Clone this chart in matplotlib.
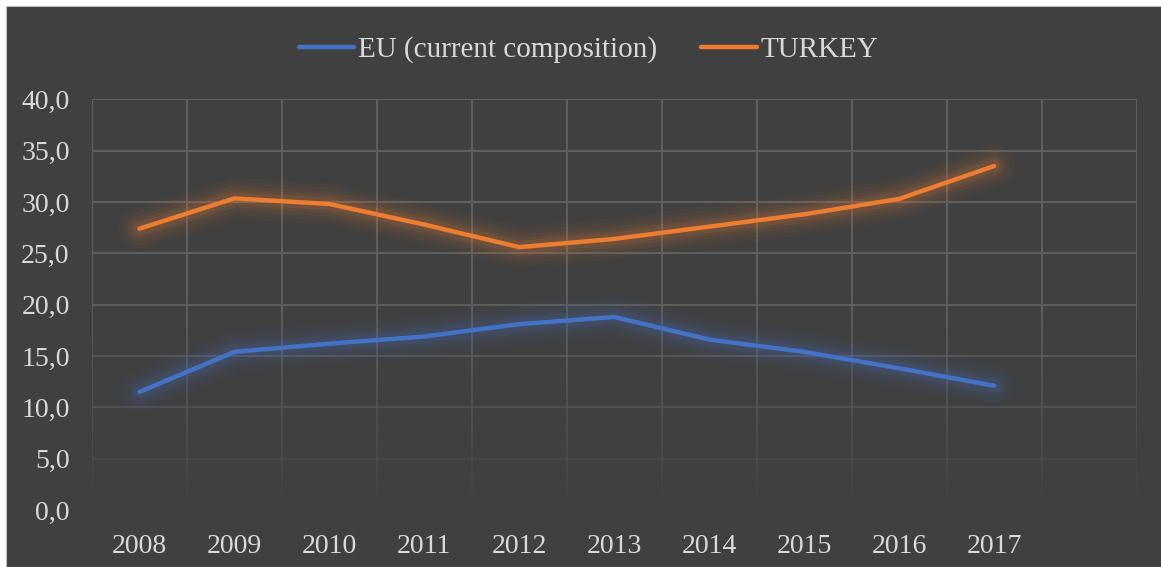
import numpy as np
import matplotlib.pyplot as plt
from matplotlib.collections import LineCollection
from matplotlib.patches import Rectangle

# data
years = ['2008', '2009', '2010', '2011', '2012', '2013', '2014', '2015', '2016', '2017']
eu = [11.5, 15.4, 16.2, 16.9, 18.1, 18.8, 16.6, 15.4, 13.8, 12.1]
turkey = [27.4, 30.35, 29.8, 27.8, 25.6, 26.4, 27.6, 28.8, 30.3, 33.5]
series_names = ['EU (current composition)', 'TURKEY']
series_colors = ['#4472C4', '#ED7D31']
n_slots = 11  # Excel axis leaves one empty category at the end

bg = '#404040'
grid_col = '#5e5e5e'
txt_col = '#d9d9d9'

plt.rcParams['font.family'] = ['Liberation Serif', 'DejaVu Serif']

fig = plt.figure(figsize=(11.61, 5.67), dpi=100)
fig.patch.set_facecolor('white')
fig.patches.append(Rectangle((6 / 1161, 0), 1, 1 - 6 / 567, transform=fig.transFigure,
                             facecolor=bg, edgecolor='#bfbfbf', linewidth=0.8, zorder=-5))

ax = fig.add_axes([0.0792, 0.1005, 0.979 - 0.0792, 0.8249 - 0.1005])
ax.set_zorder(2)
ax.set_facecolor(bg)
ax.set_xlim(-0.5, n_slots - 0.5)
ax.set_ylim(0, 40)
for s in ax.spines.values():
    s.set_visible(False)

# gridlines fading out towards the bottom
def fade(v):
    return np.clip((v - 1.0) / 20.0, 0, 1) ** 0.8

yt = np.arange(0, 45, 5)
for v in yt:
    ax.axhline(v, color=grid_col, lw=1.5, alpha=float(fade(v)), zorder=1)
ys = np.linspace(0, 40, 81)
for xb in np.arange(-0.5, n_slots, 1.0):
    segs = [[(xb, ys[i]), (xb, ys[i + 1])] for i in range(len(ys) - 1)]
    alphas = fade((ys[:-1] + ys[1:]) / 2)
    cols = [(0x5e / 255, 0x5e / 255, 0x5e / 255, a) for a in alphas]
    ax.add_collection(LineCollection(segs, colors=cols, linewidths=1.5, zorder=1))

x = np.arange(len(years))
handles = []
for vals, name, col in zip([eu, turkey], series_names, series_colors):
    # soft glow
    for w, a in [(30, 0.035), (24, 0.045), (18, 0.06), (13, 0.08), (9, 0.1)]:
        ax.plot(x, vals, color=col, lw=w, alpha=a, solid_capstyle='round',
                solid_joinstyle='round', zorder=2)
    h, = ax.plot(x, vals, color=col, lw=3.2, solid_capstyle='round',
                 solid_joinstyle='round', zorder=3, label=name)
    handles.append(h)

ax.set_xticks(x)
ax.set_xticklabels(years)
ax.set_yticks(yt)
ax.set_yticklabels([f'{v:.1f}'.replace('.', ',') for v in yt])
ax.tick_params(axis='both', length=0, colors=txt_col, labelsize=20)
ax.tick_params(axis='y', pad=16)
ax.tick_params(axis='x', pad=17)

leg = fig.legend(handles=handles, loc='center', bbox_to_anchor=(0.507, 0.912), ncol=2,
                 frameon=False, fontsize=21, handlelength=1.9, handletextpad=0.15,
                 columnspacing=1.5)
for t in leg.get_texts():
    t.set_color(txt_col)

fig.savefig('out.png', dpi=100)
